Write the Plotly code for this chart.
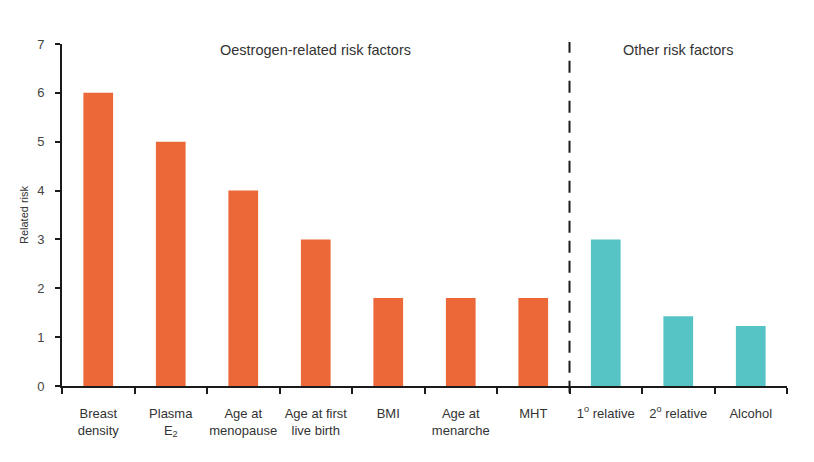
import plotly.graph_objects as go

categories = ["Breast<br>density", "Plasma<br>E<sub>2</sub>", "Age at<br>menopause",
              "Age at first<br>live birth", "BMI", "Age at<br>menarche", "MHT",
              "1<sup>o</sup> relative", "2<sup>o</sup> relative", "Alcohol"]
values = [6.0, 5.0, 4.0, 3.0, 1.8, 1.8, 1.8, 3.0, 1.43, 1.23]
groups = ["o"] * 7 + ["t"] * 3
color_map = {"o": "#EC6839", "t": "#56C3C4"}
y_ticks = [0, 1, 2, 3, 4, 5, 6, 7]

fig = go.Figure()
fig.add_trace(go.Bar(
    x=list(range(len(categories))), y=values,
    marker=dict(color=[color_map[g] for g in groups], line=dict(width=0)),
    width=0.41,
))

fam = "Liberation Sans, Arial, sans-serif"
font = dict(family=fam, size=13, color="#333333")
fig.update_layout(
    width=798, height=446,
    margin=dict(l=54, r=19, t=36, b=68, autoexpand=False),
    plot_bgcolor="white", paper_bgcolor="white",
    showlegend=False, font=font,
    xaxis=dict(
        tickmode="array", tickvals=list(range(len(categories))), ticktext=categories,
        range=[-0.5, 9.5], showline=True, linecolor="#1a1a1a", linewidth=2,
        ticks="", showgrid=False, zeroline=False, tickfont=font, automargin=False,
        ticklabelstandoff=14,
        minor=dict(tickvals=[i - 0.5 for i in range(len(categories) + 1)],
                   ticks="outside", ticklen=6, tickwidth=2, tickcolor="#1a1a1a"),
    ),
    yaxis=dict(
        range=[0, 7], tickvals=y_ticks, showline=True, linecolor="#1a1a1a", linewidth=2,
        ticks="outside", ticklen=5, tickwidth=2, tickcolor="#1a1a1a",
        showgrid=False, zeroline=False, automargin=False,
        tickfont=dict(family=fam, size=13, color="#444444"), ticklabelstandoff=8,
        title=dict(text="Related risk", font=dict(family=fam, size=11, color="#333333"), standoff=6),
    ),
)

fig.add_shape(type="line", xref="x", yref="paper", x0=6.5, x1=6.5, y0=-0.02, y1=1.006,
              line=dict(color="#1a1a1a", width=2, dash="12px,8px"))
fig.add_annotation(x=3.0, y=0.982, xref="x", yref="paper", yanchor="middle",
                   text="Oestrogen-related risk factors",
                   showarrow=False, font=dict(family=fam, size=14.5, color="#333333"))
fig.add_annotation(x=8.0, y=0.982, xref="x", yref="paper", yanchor="middle",
                   text="Other risk factors",
                   showarrow=False, font=dict(family=fam, size=14.5, color="#333333"))

fig.write_html("out.html")
